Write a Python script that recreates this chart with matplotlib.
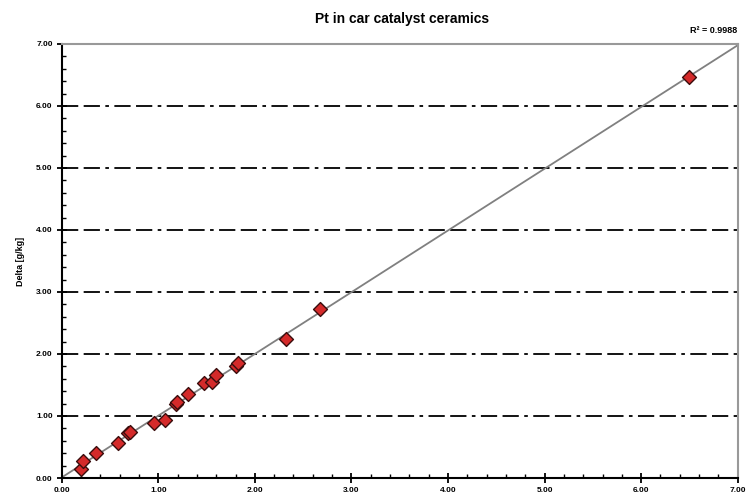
import matplotlib
matplotlib.use('Agg')
import matplotlib.pyplot as plt
from matplotlib.ticker import MultipleLocator, FormatStrFormatter
import numpy as np

plt.rcParams['font.family'] = ['Liberation Sans Narrow', 'Liberation Sans', 'DejaVu Sans']

# reference value vs measured (g/kg)
ref = [0.20, 0.22, 0.35, 0.58, 0.69, 0.71, 0.96, 1.07, 1.18, 1.19,
       1.31, 1.47, 1.56, 1.60, 1.80, 1.83, 2.32, 2.67, 6.50]
delta = [0.14, 0.27, 0.40, 0.57, 0.72, 0.74, 0.89, 0.93, 1.19, 1.22,
         1.36, 1.53, 1.55, 1.66, 1.81, 1.85, 2.24, 2.72, 6.47]
title = 'Pt in car catalyst ceramics'
r2_text = 'R² = 0.9988'

fig = plt.figure(figsize=(7.47, 5.03), dpi=100)
ax = fig.add_axes([0.0826, 0.0497, 0.905, 0.863])

# trend line over the full axis
slope, icpt = np.polyfit(ref, delta, 1)
xs = np.array([0, 7])
ax.plot(xs, slope * xs + icpt, color='#808080', lw=1.3, zorder=2)

ax.scatter(ref, delta, marker='D', s=50, color='#d42a2a', edgecolor='#3a0d0d',
           linewidth=1.0, zorder=3)

ax.set_xlim(0, 7)
ax.set_ylim(0, 7)
for v in range(1, 7):
    ax.axhline(v, color='black', lw=1.3, ls=(0, (9, 3, 9, 3, 2, 3)), zorder=1)

ax.xaxis.set_major_locator(MultipleLocator(1))
ax.xaxis.set_minor_locator(MultipleLocator(0.2))
ax.yaxis.set_major_locator(MultipleLocator(1))
ax.yaxis.set_minor_locator(MultipleLocator(0.2))
ax.xaxis.set_major_formatter(FormatStrFormatter('%.2f'))
ax.yaxis.set_major_formatter(FormatStrFormatter('%.2f'))
ax.tick_params(which='major', direction='inout', length=7, width=1.3,
               labelsize=6, pad=3)
ax.tick_params(which='minor', direction='in', length=3, width=1.0)
for lab in ax.get_xticklabels() + ax.get_yticklabels():
    lab.set_fontweight('bold')

ax.spines['left'].set_linewidth(1.5)
ax.spines['bottom'].set_linewidth(1.5)
for s in ['top', 'right']:
    ax.spines[s].set_color('#999999')
    ax.spines[s].set_linewidth(1.5)

ax.set_ylabel('Delta [g/kg]', fontsize=6.5, fontweight='bold', labelpad=8)
fig.text(0.538, 0.962, title, ha='center', va='center', fontsize=10, fontweight='bold')
fig.text(0.987, 0.94, r2_text, ha='right', va='center', fontsize=6.5, fontweight='bold')

fig.savefig('out.png', dpi=100)
